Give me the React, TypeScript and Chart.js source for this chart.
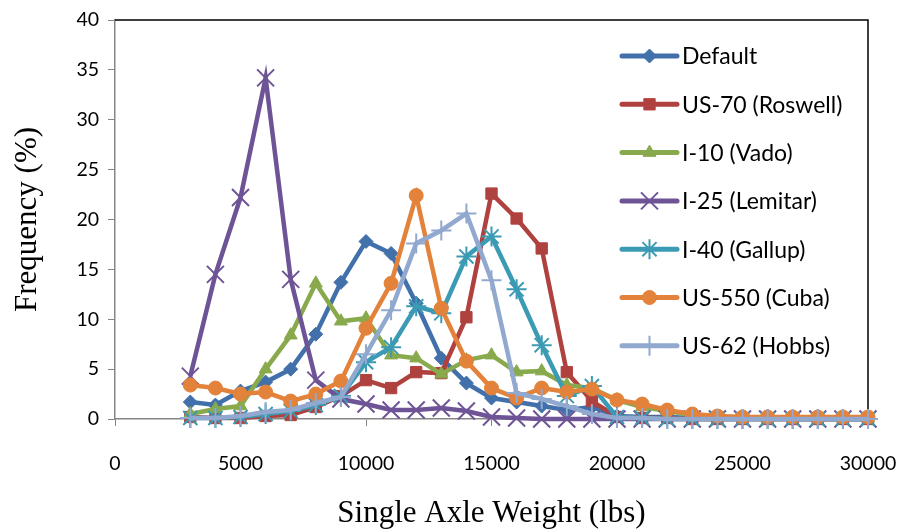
import { useEffect, useRef } from 'react';
import { Chart, registerables } from 'chart.js';
import { drawPoint } from 'chart.js/helpers';

Chart.register(...registerables);

// ---- data ----
const weights = [3000, 4000, 5000, 6000, 7000, 8000, 9000, 10000, 11000, 12000, 13000, 14000, 15000, 16000, 17000, 18000, 19000, 20000, 21000, 22000, 23000, 24000, 25000, 26000, 27000, 28000, 29000, 30000];

const seriesNames = ['Default', 'US-70 (Roswell)', 'I-10 (Vado)', 'I-25 (Lemitar)', 'I-40 (Gallup)', 'US-550 (Cuba)', 'US-62 (Hobbs)'];

const defaultValues = [1.7, 1.4, 2.8, 3.7, 5.0, 8.5, 13.7, 17.8, 16.6, 11.6, 6.1, 3.6, 2.1, 1.7, 1.3, 0.9, 1.2, 0.3, 0.2, 0.2, 0.1, 0.1, 0.1, 0.1, 0.0, 0.0, 0.0, 0.0];
const us70Values = [0.2, 0.1, 0.1, 0.3, 0.4, 1.2, 2.3, 3.9, 3.1, 4.7, 4.6, 10.2, 22.6, 20.1, 17.1, 4.7, 1.8, 0.2, 0.1, 0.1, 0.0, 0.0, 0.0, 0.0, 0.0, 0.0, 0.0, 0.0];
const i10Values = [0.5, 1.0, 1.3, 5.0, 8.4, 13.6, 9.8, 10.1, 6.4, 6.1, 4.5, 5.9, 6.4, 4.7, 4.8, 3.4, 3.1, 1.9, 1.2, 0.8, 0.4, 0.2, 0.2, 0.1, 0.1, 0.1, 0.1, 0.1];
const i25Values = [4.3, 14.5, 22.2, 34.2, 14.0, 3.9, 2.0, 1.5, 0.9, 0.9, 1.1, 0.8, 0.2, 0.1, 0.0, 0.0, 0.0, 0.0, 0.0, 0.0, 0.0, 0.0, 0.0, 0.0, 0.0, 0.0, 0.0, 0.0];
const i40Values = [0.1, 0.1, 0.2, 0.5, 0.8, 1.4, 2.3, 5.7, 7.2, 11.3, 10.6, 16.3, 18.3, 13.0, 7.4, 2.3, 3.3, 0.2, 0.1, 0.0, 0.0, 0.0, 0.0, 0.0, 0.0, 0.0, 0.0, 0.0];
const us550Values = [3.4, 3.1, 2.5, 2.7, 1.8, 2.5, 3.8, 9.1, 13.6, 22.4, 11.1, 5.8, 3.1, 2.1, 3.1, 2.7, 3.0, 1.9, 1.5, 0.9, 0.5, 0.3, 0.2, 0.2, 0.2, 0.2, 0.2, 0.2];
const us62Values = [0.1, 0.1, 0.3, 0.7, 0.9, 1.6, 2.2, 6.5, 10.9, 17.6, 18.9, 20.6, 13.9, 2.6, 2.0, 1.3, 0.5, 0.1, 0.1, 0.0, 0.0, 0.0, 0.0, 0.0, 0.0, 0.0, 0.0, 0.0];

const xTickValues = [0, 5000, 10000, 15000, 20000, 25000, 30000];
const yTickValues = [0, 5, 10, 15, 20, 25, 30, 35, 40];

const xTitle = 'Single Axle Weight (lbs)';
const yTitle = 'Frequency (%)';

// ---- styles ----
const allValues = [defaultValues, us70Values, i10Values, i25Values, i40Values, us550Values, us62Values];
const colors = ['#4170AA', '#AF423F', '#89AA4C', '#6E5496', '#3C9BB4', '#E3823A', '#91A8CF'];
const pointStyles = ['rectRot', 'rect', 'triangle', 'crossRot', 'star', 'circle', 'cross'];
const pointRadii = [7, 8, 7.5, 12, 10, 7, 10];
const pointBorders = [1, 1, 1, 2, 2, 1, 2];

const tickFont = { family: 'Lato', size: 19.5 };
const titleFont = { family: '"Liberation Serif"', size: 31 };
const legendFont = '23px Lato';

const plotBorderPlugin = {
  id: 'plotBorder',
  beforeDatasetsDraw(chart: any) {
    const { ctx, chartArea } = chart;
    ctx.save();
    ctx.strokeStyle = '#000';
    ctx.lineWidth = 1.5;
    ctx.beginPath();
    ctx.moveTo(chartArea.left, chartArea.top);
    ctx.lineTo(chartArea.right, chartArea.top);
    ctx.lineTo(chartArea.right, chartArea.bottom);
    ctx.stroke();
    ctx.restore();
  },
};

const legendPlugin = {
  id: 'insideLegend',
  afterDatasetsDraw(chart: any) {
    const { ctx, chartArea } = chart;
    const x0 = chartArea.right - 246;
    const x1 = x0 + 55;
    const xm = (x0 + x1) / 2;
    const tx = x1 + 5;
    const y0 = chartArea.top + 36;
    const dy = 48.3;
    ctx.save();
    chart.data.datasets.forEach((ds: any, i: number) => {
      const y = y0 + i * dy;
      ctx.strokeStyle = ds.borderColor;
      ctx.lineWidth = 5;
      ctx.lineCap = 'round';
      ctx.beginPath();
      ctx.moveTo(x0, y);
      ctx.lineTo(x1, y);
      ctx.stroke();
      ctx.lineCap = 'butt';
      ctx.fillStyle = ds.pointBackgroundColor;
      ctx.strokeStyle = ds.pointBorderColor;
      ctx.lineWidth = ds.pointBorderWidth;
      drawPoint(ctx, { pointStyle: ds.pointStyle, radius: ds.pointRadius, borderWidth: ds.pointBorderWidth, rotation: 0 }, xm, y);
      ctx.fillStyle = '#000';
      ctx.font = legendFont;
      ctx.textAlign = 'left';
      ctx.textBaseline = 'middle';
      ctx.fillText(ds.label, tx, y + 1);
    });
    ctx.restore();
  },
};

export default function App() {
  const canvasRef = useRef<HTMLCanvasElement | null>(null);

  useEffect(() => {
    document.body.style.margin = '0';
    const canvas = canvasRef.current;
    if (!canvas) return;
    const n = seriesNames.length;
    const datasets = seriesNames.map((name, i) => ({
      label: name,
      data: weights.map((w, k) => ({ x: w, y: allValues[i][k] })),
      borderColor: colors[i],
      backgroundColor: colors[i],
      pointBackgroundColor: colors[i],
      pointBorderColor: colors[i],
      pointStyle: pointStyles[i],
      pointRadius: pointRadii[i],
      pointBorderWidth: pointBorders[i],
      borderWidth: 4.5,
      tension: 0,
      clip: false as any,
      order: n - 1 - i,
    }));

    const chart = new Chart(canvas, {
      type: 'line',
      data: { datasets },
      plugins: [plotBorderPlugin, legendPlugin],
      options: {
        animation: false,
        responsive: false,
        devicePixelRatio: 1,
        layout: { padding: { top: 20, right: 36, left: 0, bottom: 0 } },
        plugins: {
          legend: { display: false },
          tooltip: { enabled: false },
        },
        scales: {
          x: {
            type: 'linear',
            min: 0,
            max: 30000,
            afterFit: (s: any) => { s.height = 113; s.paddingLeft = 0; s.paddingRight = 0; },
            afterBuildTicks: (s: any) => { s.ticks = xTickValues.map((v) => ({ value: v })); },
            ticks: {
              color: '#000',
              font: tickFont,
              padding: 26,
              maxRotation: 0,
              autoSkip: false,
              callback: (v: any) => String(v),
            },
            grid: { display: true, drawOnChartArea: false, drawTicks: true, tickLength: 7, color: '#868686' },
            border: { display: true, color: '#868686', width: 1.5 },
            title: { display: true, text: xTitle, color: '#000', font: titleFont, padding: { top: 0, bottom: 0 } },
          },
          y: {
            type: 'linear',
            min: 0,
            max: 40,
            afterFit: (s: any) => { s.width = 115; s.paddingTop = 0; s.paddingBottom = 0; },
            afterBuildTicks: (s: any) => { s.ticks = yTickValues.map((v) => ({ value: v })); },
            ticks: {
              color: '#000',
              font: tickFont,
              padding: 9,
              autoSkip: false,
              callback: (v: any) => String(v),
            },
            grid: { display: true, drawOnChartArea: false, drawTicks: true, tickLength: 7, color: '#868686' },
            border: { display: true, color: '#868686', width: 1.5 },
            title: { display: true, text: yTitle, color: '#000', font: titleFont, padding: { top: 9, bottom: 0 } },
          },
        },
      } as any,
    });
    return () => chart.destroy();
  }, []);

  return (
    <div style={{ width: 904, height: 532 }}>
      <canvas ref={canvasRef} width={904} height={532} style={{ width: 904, height: 532, display: 'block' }} />
    </div>
  );
}
